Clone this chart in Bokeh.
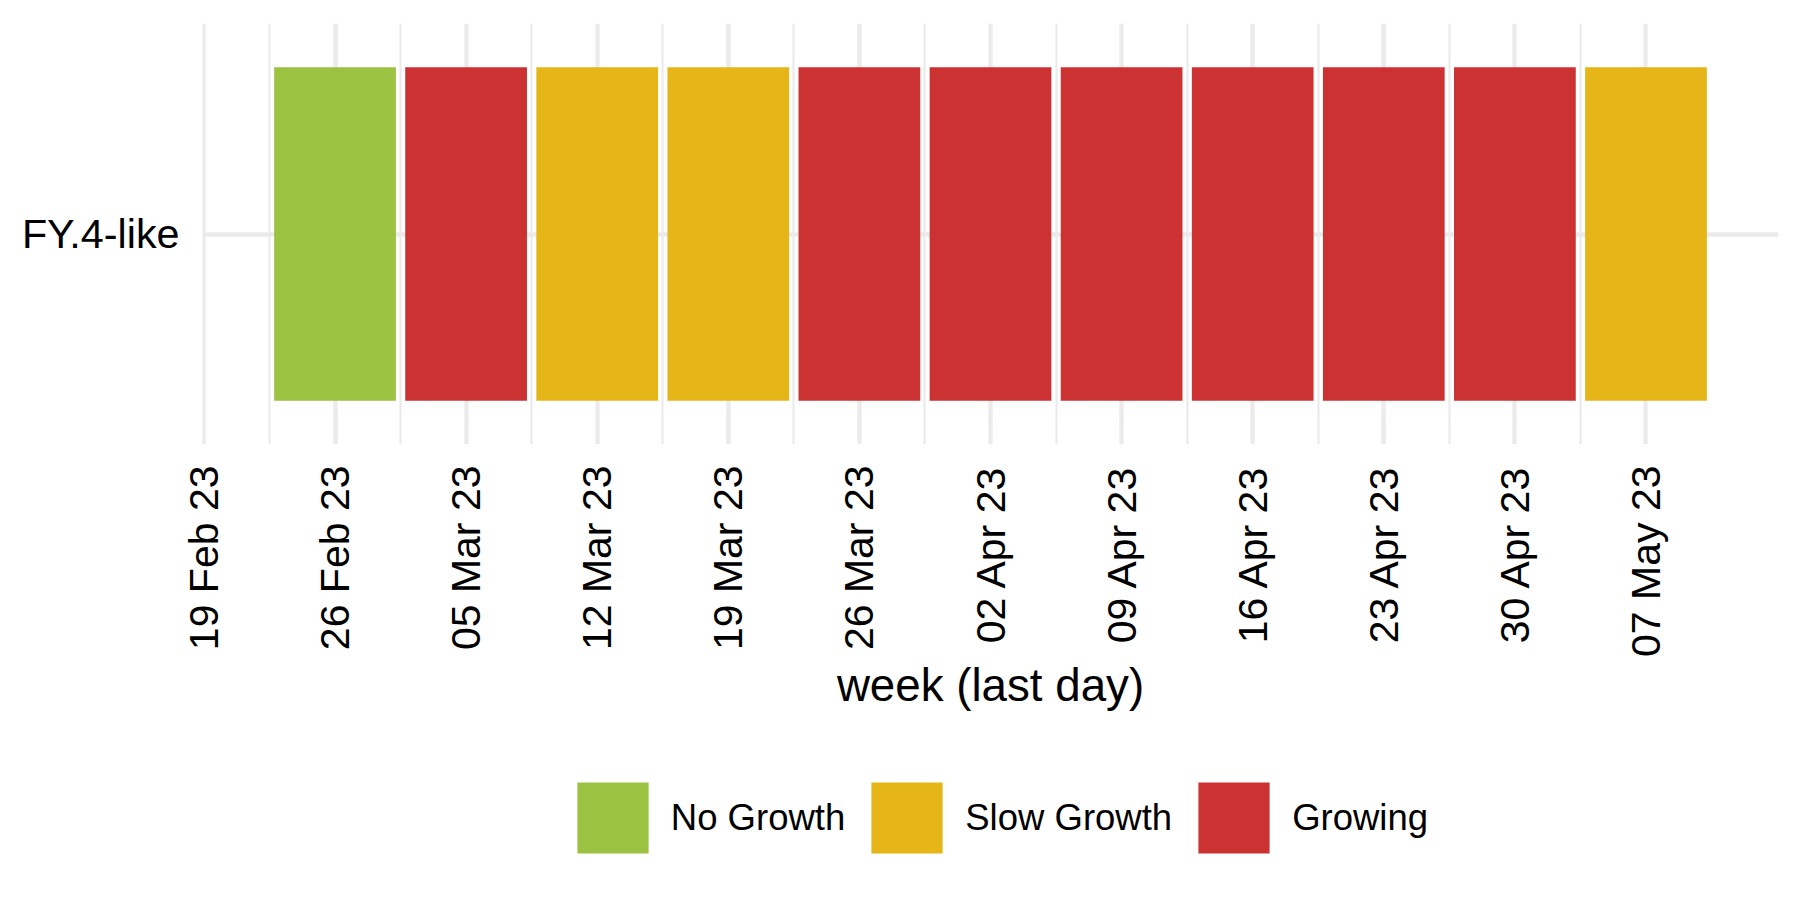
import math
import pandas as pd
from bokeh.plotting import figure
from bokeh.layouts import column
from bokeh.models import (FactorRange, Range1d, FixedTicker, DatetimeTickFormatter,
                          Legend, LegendItem, ColumnDataSource)
from bokeh.embed import file_html
from bokeh.resources import INLINE

# ---- data ----
strains = ["FY.4-like"]
week_last_day = ["2023-02-26", "2023-03-05", "2023-03-12", "2023-03-19", "2023-03-26",
                 "2023-04-02", "2023-04-09", "2023-04-16", "2023-04-23", "2023-04-30",
                 "2023-05-07"]
status = ["No Growth", "Growing", "Slow Growth", "Slow Growth", "Growing",
          "Growing", "Growing", "Growing", "Growing", "Growing", "Slow Growth"]
tick_dates = ["2023-02-19", "2023-02-26", "2023-03-05", "2023-03-12", "2023-03-19",
              "2023-03-26", "2023-04-02", "2023-04-09", "2023-04-16", "2023-04-23",
              "2023-04-30", "2023-05-07"]
status_levels = ["No Growth", "Slow Growth", "Growing"]
status_colors = ["#9BC241", "#E6B517", "#CD3233"]

FONT = "Liberation Sans"
DAY_MS = 86400000.0
bar_width_days = 6.5
bar_height = 0.95


def to_ms(strs):
    return [float(v) for v in pd.to_datetime(strs).values.astype("datetime64[ms]").astype("int64")]


x_ms = to_ms(week_last_day)
tick_ms = to_ms(tick_dates)
minor_ms = [(a + b) / 2 for a, b in zip(tick_ms[:-1], tick_ms[1:])]

xmin = min(x_ms) - bar_width_days / 2 * DAY_MS
xmax = max(x_ms) + bar_width_days / 2 * DAY_MS
pad = (xmax - xmin) * 0.05

W = 1792
p = figure(x_axis_type="datetime",
           x_range=Range1d(xmin - pad, xmax + pad),
           y_range=FactorRange(factors=strains, range_padding=0.2),
           width=W, height=760,
           min_border_left=202, min_border_right=14,
           min_border_top=23, min_border_bottom=316,
           output_backend="svg", toolbar_location=None)

for lvl, col in zip(status_levels, status_colors):
    idx = [i for i, s in enumerate(status) if s == lvl]
    src = ColumnDataSource(dict(x=[x_ms[i] for i in idx], y=[strains[0]] * len(idx)))
    p.rect(x="x", y="y", width=bar_width_days * DAY_MS, height=bar_height,
           source=src, fill_color=col, line_color=None)

ticker = FixedTicker(ticks=tick_ms, minor_ticks=minor_ms)
p.xaxis.ticker = ticker
p.xgrid.ticker = ticker
fmt = "%d %b %y"
p.xaxis.formatter = DatetimeTickFormatter(milliseconds=fmt, seconds=fmt, minsec=fmt, minutes=fmt,
                                          hourmin=fmt, hours=fmt, days=fmt, months=fmt, years=fmt)

for ax in (p.xaxis[0], p.yaxis[0]):
    ax.axis_line_color = None
    ax.major_tick_line_color = None
    ax.minor_tick_line_color = None
    ax.major_tick_out = 0
    ax.major_tick_in = 0
    ax.minor_tick_out = 0
    ax.minor_tick_in = 0
    ax.major_label_text_font = FONT
    ax.major_label_text_color = "black"

p.xaxis.major_label_orientation = math.pi / 2
p.xaxis.major_label_text_font_size = "41px"
p.xaxis.major_label_standoff = 21
p.xaxis.axis_label = "week (last day)"
p.xaxis.axis_label_text_font = FONT
p.xaxis.axis_label_text_font_size = "45.7px"
p.xaxis.axis_label_text_font_style = "normal"
p.xaxis.axis_label_text_color = "black"
p.xaxis.axis_label_standoff = 0

p.yaxis.major_label_text_font_size = "41.3px"
p.yaxis.major_label_standoff = 23

p.xgrid.grid_line_color = "#EBEBEB"
p.xgrid.grid_line_width = 4.4
p.xgrid.minor_grid_line_color = "#EBEBEB"
p.xgrid.minor_grid_line_width = 2.2
p.ygrid.grid_line_color = "#EBEBEB"
p.ygrid.grid_line_width = 4.4
p.outline_line_color = None

# ---- legend strip below the chart (its frame is aligned with the chart's frame) ----
LH = 124
q = figure(width=W, height=LH, x_range=(0, 1), y_range=(0, 1),
           x_axis_location=None, y_axis_location=None, min_border=0,
           output_backend="svg", toolbar_location=None)
q.grid.visible = False
q.outline_line_color = None
items = []
for lvl, col in zip(status_levels, status_colors):
    # one off-screen point so that the legend key is drawn
    r = q.rect(x=[-10], y=[-10], width=1, height=1, fill_color=col, line_color=None)
    items.append(LegendItem(label=lvl, renderers=[r]))

legend = Legend(items=items, orientation="horizontal", location=(365.8, 21.6),
                glyph_width=89, glyph_height=89, label_standoff=14, spacing=17,
                padding=0, margin=0, border_line_color=None, background_fill_alpha=0,
                label_text_font=FONT, label_text_font_size="36.5px", label_text_color="black")
q.add_layout(legend)

open("out.html", "w").write(file_html(column(p, q), INLINE))
